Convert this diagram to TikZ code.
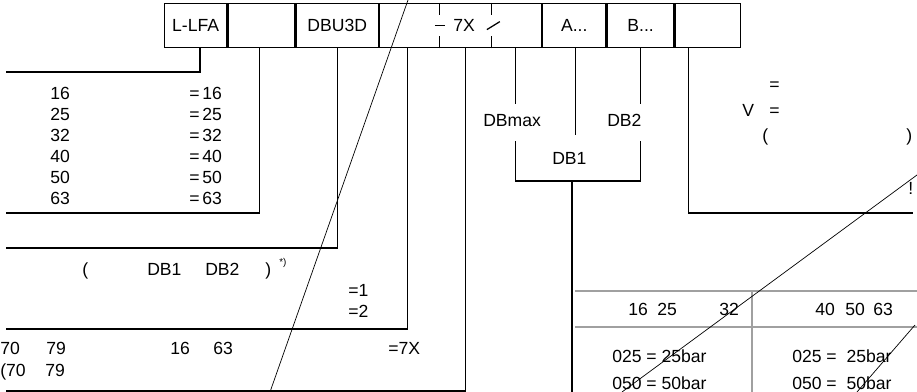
\documentclass[tikz,border=0pt]{standalone}
\usepackage{fontspec}
\setmainfont{Liberation Sans}
\usepackage{xcolor}
\usetikzlibrary{positioning,calc}
\definecolor{gridgray}{HTML}{A0A0A0}
\tikzset{
  cell/.style={draw,line width=0.9pt,minimum height=1.1cm,inner sep=0pt,anchor=north west},
  wire/.style={line width=0.9pt,draw=black},
  strike/.style={line width=0.5pt,draw=black},
  tabline/.style={line width=0.8pt,draw=gridgray},
  lbl/.style={anchor=base west,inner sep=0pt},
  col/.style={anchor=base west,inner sep=0pt,align=left,font=\fontsize{12.5}{14.94}\selectfont}
}
\begin{document}
\begin{tikzpicture}[x=0.025cm,y=-0.025cm,font=\fontsize{12.5}{15}\selectfont]
  \useasboundingbox (0,0) rectangle (917,392);
  % type code boxes
  \node[cell,minimum width=1.55cm] (lfa) at (164,3) {L-LFA};
  \node[cell,minimum width=1.675cm,right=0pt of lfa] (size) {};
  \node[cell,minimum width=2.05cm,right=0pt of size] (dbu) {DBU3D};
  \node[cell,minimum width=4.05cm,right=0pt of dbu] (sw7x) {};
  \node[cell,minimum width=1.575cm,right=0pt of sw7x] (aval) {A...};
  \node[cell,minimum width=1.675cm,right=0pt of aval] (bval) {B...};
  \node[cell,minimum width=1.625cm,right=0pt of bval] (opt) {};
  \node[lbl] (x7) at (453,32) {7X};
  \draw[wire] ($(sw7x.north west)+(61,0)$) -- ++(0,12); \draw[wire] ($(sw7x.south west)+(61,0)$) -- ++(0,-12);
  \draw[wire] ($(sw7x.west)+(56,0)$) -- ++(10,0);
  \draw[wire] ($(sw7x.north west)+(113,0)$) -- ++(0,12); \draw[wire] ($(sw7x.south west)+(113,0)$) -- ++(0,-12);
  \draw[wire] ($(sw7x.west)+(108,4)$) -- ++(13,-8);
  % leader lines
  \coordinate (l1) at (6,72); \coordinate (l2) at (6,213); \coordinate (l3) at (6,248);
  \coordinate (l4) at (6,329); \coordinate (l5) at (6,391); \coordinate (r1) at (913,213);
  \draw[wire] ($(lfa.south west)+(36,0)$) |- (l1);
  \draw[wire] ($(size.south west)+(32,0)$) |- (l2);
  \draw[wire] (dbu.south) |- (l3);
  \draw[wire] ($(sw7x.south west)+(29,0)$) |- (l4);
  \draw[wire] ($(sw7x.south west)+(87,0)$) |- (l5);
  \draw[wire] ($(opt.south west)+(14,0)$) |- (r1);
  % pressure stages
  \coordinate (fork) at (572,181); \coordinate (foot) at (572,392);
  \draw[wire] ($(sw7x.south west)+(137,0)$) -- ++(0,56);
  \draw[wire] ($(aval.south west)+(33,0)$) -- ++(0,87);
  \draw[wire] ($(bval.south west)+(34,0)$) -- ++(0,56);
  \draw[wire] ($(sw7x.south west)+(137,93)$) |- (fork) -| ($(bval.south west)+(34,93)$);
  \draw[wire] (fork) -- (foot);
  \node[lbl] (dbmax) at (483,127) {DBmax};
  \node[lbl] (db2) at (607,127) {DB2};
  \node[lbl] (db1) at (552,165) {DB1};
  % size list
  \node[col] (sizes) at (50,205) {16\\25\\32\\40\\50\\63};
  \node[col] (sizeq) at (189,205) {=\,16\\=\,25\\=\,32\\=\,40\\=\,50\\=\,63};
  % setting
  \node[lbl] (pl) at (82,276) {(}; \node[lbl] (sdb1) at (147,276) {DB1}; \node[lbl] (sdb2) at (205,276) {DB2};
  \node[lbl] (pr) at (265,276) {)}; \node[lbl,font=\fontsize{7}{8}\selectfont] (fn) at (279,266) {*)};
  \node[lbl] (eq1) at (348,297) {=1}; \node[lbl] (eq2) at (348,318) {=2};
  \node[lbl] (s70) at (0,355) {70}; \node[lbl] (s79) at (46,355) {79};
  \node[lbl] (s16) at (170,355) {16}; \node[lbl] (s63) at (213,355) {63};
  \node[lbl] (eq7x) at (388,355) {=7X};
  \node[lbl] (p70) at (0,377) {(70}; \node[lbl] (p79) at (45,377) {79};
  % right notes
  \node[lbl] (eqa) at (769,91) {=}; \node[lbl] (vv) at (742,117) {V}; \node[lbl] (eqb) at (769,117) {=};
  \node[lbl] (ql) at (762,142) {(}; \node[lbl] (qr) at (906,142) {)}; \node[lbl] (bang) at (908,195) {!};
  % pressure table
  \draw[tabline] (575,291) -- (917,291); \draw[tabline] (575,327) -- (917,327); \draw[tabline] (752,291) -- (752,392);
  \node[lbl] (n16) at (628,316) {16}; \node[lbl] (n25) at (657,316) {25}; \node[lbl] (n32) at (719,316) {32};
  \node[lbl] (n40) at (815,316) {40}; \node[lbl] (n50) at (845,316) {50}; \node[lbl] (n63) at (873,316) {63};
  \node[lbl] (pa) at (612,363) {025 = 25bar}; \node[lbl] (pb) at (612,390) {050 = 50bar};
  \node[lbl] (pc) at (792,363) {025 =\ \ 25bar}; \node[lbl] (pd) at (792,390) {050 =\ \ 50bar};
  % crossings
  \draw[strike] (408,0) -- (270,392);
  \draw[strike] (917,175) -- (622,392);
  \draw[strike] (915,325) -- (857,392);
\end{tikzpicture}
\end{document}
